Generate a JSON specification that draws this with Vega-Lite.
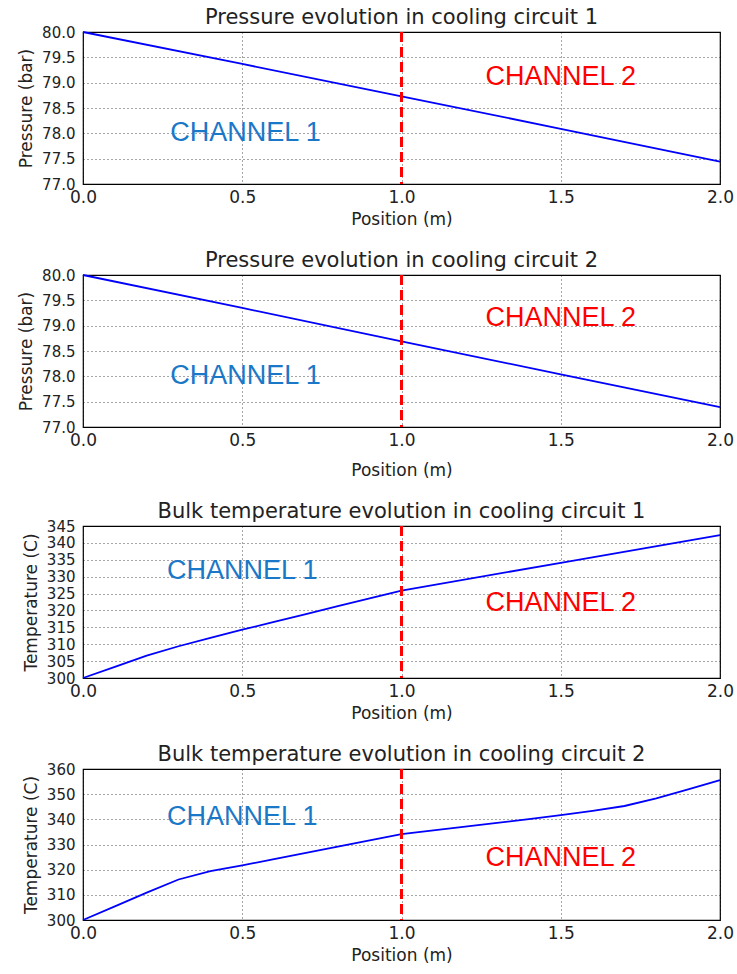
{
  "$schema": "https://vega.github.io/schema/vega-lite/v6.json",
  "padding": {"left": 17, "top": 6, "right": 5, "bottom": 2},
  "background": "white",
  "datasets": {
    "p1": [
      {"pos": 0.0, "val": 80.0}, {"pos": 0.5, "val": 79.37}, {"pos": 1.0, "val": 78.73},
      {"pos": 1.5, "val": 78.09}, {"pos": 2.0, "val": 77.44}
    ],
    "p2": [
      {"pos": 0.0, "val": 80.0}, {"pos": 0.5, "val": 79.35}, {"pos": 1.0, "val": 78.69},
      {"pos": 1.5, "val": 78.04}, {"pos": 2.0, "val": 77.39}
    ],
    "t1": [
      {"pos": 0.0, "val": 300.0}, {"pos": 0.1, "val": 303.3}, {"pos": 0.2, "val": 306.6},
      {"pos": 0.3, "val": 309.4}, {"pos": 0.4, "val": 311.9}, {"pos": 0.5, "val": 314.3},
      {"pos": 0.6, "val": 316.6}, {"pos": 0.7, "val": 318.9}, {"pos": 0.8, "val": 321.3},
      {"pos": 0.9, "val": 323.6}, {"pos": 1.0, "val": 325.9}, {"pos": 1.5, "val": 334.1},
      {"pos": 2.0, "val": 342.3}
    ],
    "t2": [
      {"pos": 0.0, "val": 300.0}, {"pos": 0.1, "val": 305.4}, {"pos": 0.2, "val": 310.9},
      {"pos": 0.3, "val": 316.1}, {"pos": 0.4, "val": 319.4}, {"pos": 0.5, "val": 321.7},
      {"pos": 0.6, "val": 324.2}, {"pos": 0.7, "val": 326.7}, {"pos": 0.8, "val": 329.2},
      {"pos": 0.9, "val": 331.6}, {"pos": 1.0, "val": 334.1}, {"pos": 1.1, "val": 335.6},
      {"pos": 1.2, "val": 337.1}, {"pos": 1.3, "val": 338.6}, {"pos": 1.4, "val": 340.1},
      {"pos": 1.5, "val": 341.7}, {"pos": 1.6, "val": 343.4}, {"pos": 1.7, "val": 345.3},
      {"pos": 1.8, "val": 348.3}, {"pos": 1.9, "val": 351.9}, {"pos": 2.0, "val": 355.6}
    ],
    "labels": [
      {"panel": "p1", "channel": "CHANNEL 1", "pos": 0.51, "val": 78.0},
      {"panel": "p1", "channel": "CHANNEL 2", "pos": 1.5, "val": 79.12},
      {"panel": "p2", "channel": "CHANNEL 1", "pos": 0.51, "val": 78.0},
      {"panel": "p2", "channel": "CHANNEL 2", "pos": 1.5, "val": 79.15},
      {"panel": "t1", "channel": "CHANNEL 1", "pos": 0.5, "val": 331.6},
      {"panel": "t1", "channel": "CHANNEL 2", "pos": 1.5, "val": 322.2},
      {"panel": "t2", "channel": "CHANNEL 1", "pos": 0.5, "val": 340.9},
      {"panel": "t2", "channel": "CHANNEL 2", "pos": 1.5, "val": 324.8}
    ],
    "divider": [{"pos": 1.0}]
  },
  "config": {
    "font": "DejaVu Sans",
    "view": {"stroke": "#000000", "strokeWidth": 1.2},
    "axis": {
      "labelFont": "DejaVu Sans", "labelFontSize": 17, "labelColor": "#222222",
      "titleFont": "DejaVu Sans", "titleFontSize": 17, "titleFontWeight": "normal", "titleColor": "#222222",
      "domain": false, "ticks": false, "labelPadding": 5,
      "labelOverlap": false, "labelFlush": false, "labelBound": false,
      "grid": true, "gridColor": "#000000", "gridOpacity": 0.7, "gridDash": [1, 3], "gridWidth": 1
    },
    "axisX": {"titlePadding": 6},
    "axisY": {"titlePadding": 6, "labelFontSize": 15, "labelPadding": 8},
    "title": {"font": "DejaVu Sans", "fontSize": 21, "fontWeight": "normal", "color": "#222222", "anchor": "middle", "offset": -3}
  },
  "columns": 1,
  "spacing": 21,
  "concat": [
    {
      "title": "Pressure evolution in cooling circuit 1",
      "width": 637, "height": 152,
      "layer": [
        {"data": {"name": "p1"}, "mark": {"type": "line", "color": "#0000ff", "strokeWidth": 1.8},
         "encoding": {
           "x": {"field": "pos", "type": "quantitative", "scale": {"domain": [0, 2], "nice": false}, "axis": {"values": [0, 0.5, 1, 1.5, 2], "format": ".1f", "title": "Position (m)"}},
           "y": {"field": "val", "type": "quantitative", "scale": {"domain": [77, 80], "nice": false, "zero": false}, "axis": {"values": [77, 77.5, 78, 78.5, 79, 79.5, 80], "format": ".1f", "title": "Pressure (bar)"}}
         }},
        {"data": {"name": "divider"}, "mark": {"type": "rule", "color": "#ff0000", "strokeWidth": 3, "strokeDash": [10, 5]},
         "encoding": {"x": {"field": "pos", "type": "quantitative", "axis": {"values": [0, 0.5, 1, 1.5, 2], "format": ".1f", "title": "Position (m)"}}}},
        {"data": {"name": "labels"}, "transform": [{"filter": "datum.panel === 'p1'"}],
         "mark": {"type": "text", "font": "Liberation Sans", "fontSize": 27, "align": "center", "baseline": "middle"},
         "encoding": {
           "x": {"field": "pos", "type": "quantitative", "axis": {"values": [0, 0.5, 1, 1.5, 2], "format": ".1f", "title": "Position (m)"}},
           "y": {"field": "val", "type": "quantitative", "axis": {"values": [77, 77.5, 78, 78.5, 79, 79.5, 80], "format": ".1f", "title": "Pressure (bar)"}},
           "text": {"field": "channel"},
           "color": {"field": "channel", "type": "nominal", "scale": {"domain": ["CHANNEL 1", "CHANNEL 2"], "range": ["#1a78c8", "#ff0000"]}, "legend": null}
         }}
      ]
    },
    {
      "title": "Pressure evolution in cooling circuit 2",
      "width": 637, "height": 152,
      "layer": [
        {"data": {"name": "p2"}, "mark": {"type": "line", "color": "#0000ff", "strokeWidth": 1.8},
         "encoding": {
           "x": {"field": "pos", "type": "quantitative", "scale": {"domain": [0, 2], "nice": false}, "axis": {"values": [0, 0.5, 1, 1.5, 2], "format": ".1f", "title": "Position (m)", "titlePadding": 14}},
           "y": {"field": "val", "type": "quantitative", "scale": {"domain": [77, 80], "nice": false, "zero": false}, "axis": {"values": [77, 77.5, 78, 78.5, 79, 79.5, 80], "format": ".1f", "title": "Pressure (bar)"}}
         }},
        {"data": {"name": "divider"}, "mark": {"type": "rule", "color": "#ff0000", "strokeWidth": 3, "strokeDash": [10, 5]},
         "encoding": {"x": {"field": "pos", "type": "quantitative", "axis": {"values": [0, 0.5, 1, 1.5, 2], "format": ".1f", "title": "Position (m)", "titlePadding": 14}}}},
        {"data": {"name": "labels"}, "transform": [{"filter": "datum.panel === 'p2'"}],
         "mark": {"type": "text", "font": "Liberation Sans", "fontSize": 27, "align": "center", "baseline": "middle"},
         "encoding": {
           "x": {"field": "pos", "type": "quantitative", "axis": {"values": [0, 0.5, 1, 1.5, 2], "format": ".1f", "title": "Position (m)", "titlePadding": 14}},
           "y": {"field": "val", "type": "quantitative", "axis": {"values": [77, 77.5, 78, 78.5, 79, 79.5, 80], "format": ".1f", "title": "Pressure (bar)"}},
           "text": {"field": "channel"},
           "color": {"field": "channel", "type": "nominal", "scale": {"domain": ["CHANNEL 1", "CHANNEL 2"], "range": ["#1a78c8", "#ff0000"]}, "legend": null}
         }}
      ]
    },
    {
      "title": "Bulk temperature evolution in cooling circuit 1",
      "width": 637, "height": 152,
      "layer": [
        {"data": {"name": "t1"}, "mark": {"type": "line", "color": "#0000ff", "strokeWidth": 1.8},
         "encoding": {
           "x": {"field": "pos", "type": "quantitative", "scale": {"domain": [0, 2], "nice": false}, "axis": {"values": [0, 0.5, 1, 1.5, 2], "format": ".1f", "title": "Position (m)"}},
           "y": {"field": "val", "type": "quantitative", "scale": {"domain": [300, 345], "nice": false, "zero": false}, "axis": {"values": [300, 305, 310, 315, 320, 325, 330, 335, 340, 345], "format": "d", "title": "Temperature (C)"}}
         }},
        {"data": {"name": "divider"}, "mark": {"type": "rule", "color": "#ff0000", "strokeWidth": 3, "strokeDash": [10, 5]},
         "encoding": {"x": {"field": "pos", "type": "quantitative", "axis": {"values": [0, 0.5, 1, 1.5, 2], "format": ".1f", "title": "Position (m)"}}}},
        {"data": {"name": "labels"}, "transform": [{"filter": "datum.panel === 't1'"}],
         "mark": {"type": "text", "font": "Liberation Sans", "fontSize": 27, "align": "center", "baseline": "middle"},
         "encoding": {
           "x": {"field": "pos", "type": "quantitative", "axis": {"values": [0, 0.5, 1, 1.5, 2], "format": ".1f", "title": "Position (m)"}},
           "y": {"field": "val", "type": "quantitative", "axis": {"values": [300, 305, 310, 315, 320, 325, 330, 335, 340, 345], "format": "d", "title": "Temperature (C)"}},
           "text": {"field": "channel"},
           "color": {"field": "channel", "type": "nominal", "scale": {"domain": ["CHANNEL 1", "CHANNEL 2"], "range": ["#1a78c8", "#ff0000"]}, "legend": null}
         }}
      ]
    },
    {
      "title": "Bulk temperature evolution in cooling circuit 2",
      "width": 637, "height": 151,
      "layer": [
        {"data": {"name": "t2"}, "mark": {"type": "line", "color": "#0000ff", "strokeWidth": 1.8},
         "encoding": {
           "x": {"field": "pos", "type": "quantitative", "scale": {"domain": [0, 2], "nice": false}, "axis": {"values": [0, 0.5, 1, 1.5, 2], "format": ".1f", "title": "Position (m)"}},
           "y": {"field": "val", "type": "quantitative", "scale": {"domain": [300, 360], "nice": false, "zero": false}, "axis": {"values": [300, 310, 320, 330, 340, 350, 360], "format": "d", "title": "Temperature (C)"}}
         }},
        {"data": {"name": "divider"}, "mark": {"type": "rule", "color": "#ff0000", "strokeWidth": 3, "strokeDash": [10, 5]},
         "encoding": {"x": {"field": "pos", "type": "quantitative", "axis": {"values": [0, 0.5, 1, 1.5, 2], "format": ".1f", "title": "Position (m)"}}}},
        {"data": {"name": "labels"}, "transform": [{"filter": "datum.panel === 't2'"}],
         "mark": {"type": "text", "font": "Liberation Sans", "fontSize": 27, "align": "center", "baseline": "middle"},
         "encoding": {
           "x": {"field": "pos", "type": "quantitative", "axis": {"values": [0, 0.5, 1, 1.5, 2], "format": ".1f", "title": "Position (m)"}},
           "y": {"field": "val", "type": "quantitative", "axis": {"values": [300, 310, 320, 330, 340, 350, 360], "format": "d", "title": "Temperature (C)"}},
           "text": {"field": "channel"},
           "color": {"field": "channel", "type": "nominal", "scale": {"domain": ["CHANNEL 1", "CHANNEL 2"], "range": ["#1a78c8", "#ff0000"]}, "legend": null}
         }}
      ]
    }
  ]
}
